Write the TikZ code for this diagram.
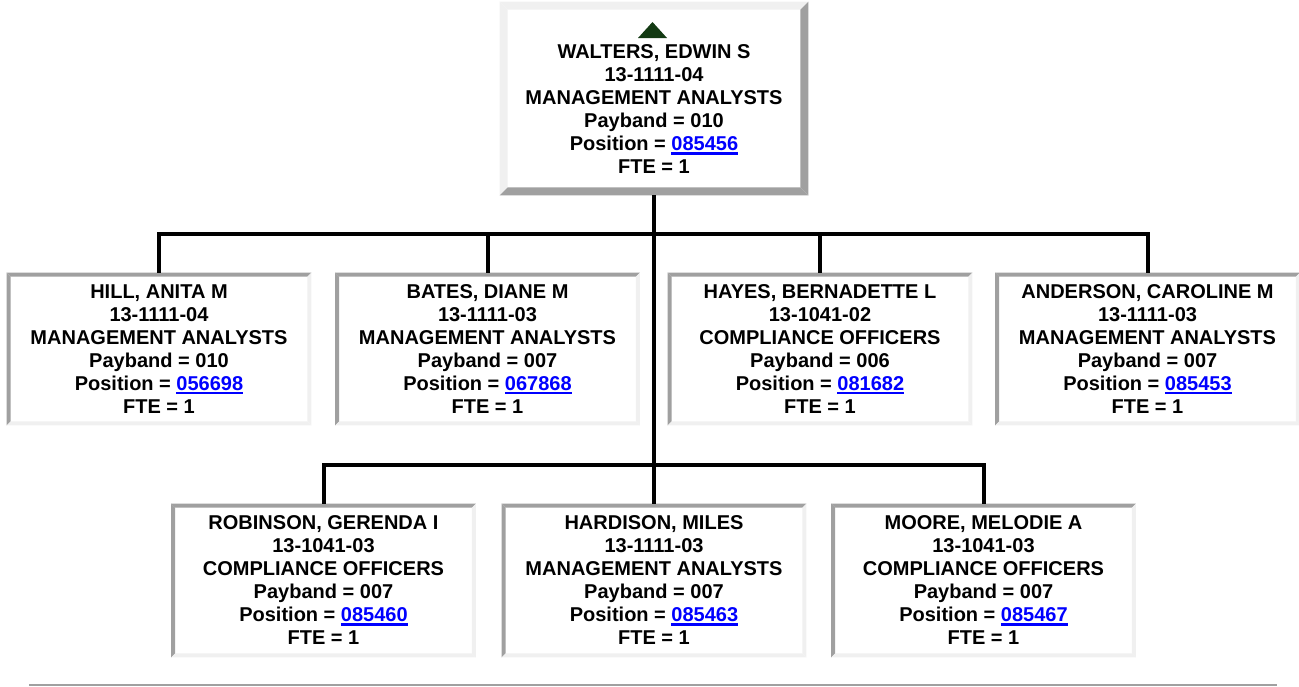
\documentclass[tikz,border=0pt]{standalone}
\usepackage{fontspec}
\setmainfont{Liberation Sans}
\usetikzlibrary{calc}
\definecolor{bdark}{HTML}{A0A0A0}
\definecolor{blight}{HTML}{F0F0F0}
\definecolor{linkblue}{HTML}{0000FF}
\definecolor{tri}{HTML}{133A13}
\newcommand\poslink[1]{{\color{linkblue}\setbox0\hbox{#1}\rlap{\rule[-2.7pt]{\wd0}{1.6pt}}\box0}}
% bevelled border: node name, band width, colour of top/left, colour of bottom/right
\newcommand\bevelbox[4]{%
  \fill[#3] (#1.north west) -- (#1.north east) -- ($(#1.north east)+(-#2,#2)$) -- ($(#1.north west)+(#2,#2)$) -- cycle;
  \fill[#3] (#1.north west) -- ($(#1.north west)+(#2,#2)$) -- ($(#1.south west)+(#2,-#2)$) -- (#1.south west) -- cycle;
  \fill[#4] (#1.south west) -- (#1.south east) -- ($(#1.south east)+(-#2,-#2)$) -- ($(#1.south west)+(#2,-#2)$) -- cycle;
  \fill[#4] (#1.north east) -- (#1.south east) -- ($(#1.south east)+(-#2,-#2)$) -- ($(#1.north east)+(-#2,#2)$) -- cycle;
}
\tikzset{
  txt/.style={font=\bfseries\fontsize{15pt}{17.25pt}\selectfont, align=center, text=black},
  child/.style={txt, rectangle, inner sep=0pt, minimum width=228pt, minimum height=114pt},
  childb/.style={txt, rectangle, inner sep=0pt, minimum width=228pt, minimum height=114.75pt},
  rootbox/.style={rectangle, inner sep=0pt, minimum width=231pt, minimum height=144.75pt},
  conn/.style={draw=black, line width=3pt, line join=miter},
  rule/.style={draw=bdark, line width=1.5pt}
}
\begin{document}
\begin{tikzpicture}[x=0.75pt, y=-0.75pt]
\useasboundingbox (0,0) rectangle (1299,686);

% root
\node[rootbox] (top) at (654,98.5) {};
\node[txt] (toplabel) at (654,109.5) {WALTERS, EDWIN S\\13-1111-04\\MANAGEMENT ANALYSTS\\Payband = 010\\Position = \poslink{085456}\\FTE = 1};
\fill[tri] (638,38) -- (667,38) -- (652.5,22) -- cycle;

% first row
\node[child] (hill) at (159,349) {HILL, ANITA M\\13-1111-04\\MANAGEMENT ANALYSTS\\Payband = 010\\Position = \poslink{056698}\\FTE = 1};
\node[child] (bates) at (487.5,349) {BATES, DIANE M\\13-1111-03\\MANAGEMENT ANALYSTS\\Payband = 007\\Position = \poslink{067868}\\FTE = 1};
\node[child] (hayes) at (820,349) {HAYES, BERNADETTE L\\13-1041-02\\COMPLIANCE OFFICERS\\Payband = 006\\Position = \poslink{081682}\\FTE = 1};
\node[child] (anderson) at (1147.5,349) {ANDERSON, CAROLINE M\\13-1111-03\\MANAGEMENT ANALYSTS\\Payband = 007\\Position = \poslink{085453}\\FTE = 1};

% second row
\node[childb] (robinson) at (323.5,580.5) {ROBINSON, GERENDA I\\13-1041-03\\COMPLIANCE OFFICERS\\Payband = 007\\Position = \poslink{085460}\\FTE = 1};
\node[childb] (hardison) at (654,580.5) {HARDISON, MILES\\13-1111-03\\MANAGEMENT ANALYSTS\\Payband = 007\\Position = \poslink{085463}\\FTE = 1};
\node[childb] (moore) at (983.5,580.5) {MOORE, MELODIE A\\13-1041-03\\COMPLIANCE OFFICERS\\Payband = 007\\Position = \poslink{085467}\\FTE = 1};

% borders
\bevelbox{top}{8}{blight}{bdark}
\foreach \n in {hill,bates,hayes,anderson,robinson,hardison,moore}{
  \bevelbox{\n}{4}{bdark}{blight}
}

% connectors
\coordinate (bus1) at (654,234);
\coordinate (bus2) at (654,465);
\draw[conn] (top.south) -- (hardison.north);
\draw[conn] (hill.north) |- (bus1) -| (anderson.north);
\draw[conn] (bates.north) -- (bates.north |- bus1);
\draw[conn] (hayes.north) -- (hayes.north |- bus1);
\draw[conn] (robinson.north) |- (bus2) -| (moore.north);

% bottom rule
\coordinate (ruleL) at (29,685);
\coordinate (ruleR) at (1277,685);
\draw[rule] (ruleL) -- (ruleR);
\end{tikzpicture}
\end{document}
